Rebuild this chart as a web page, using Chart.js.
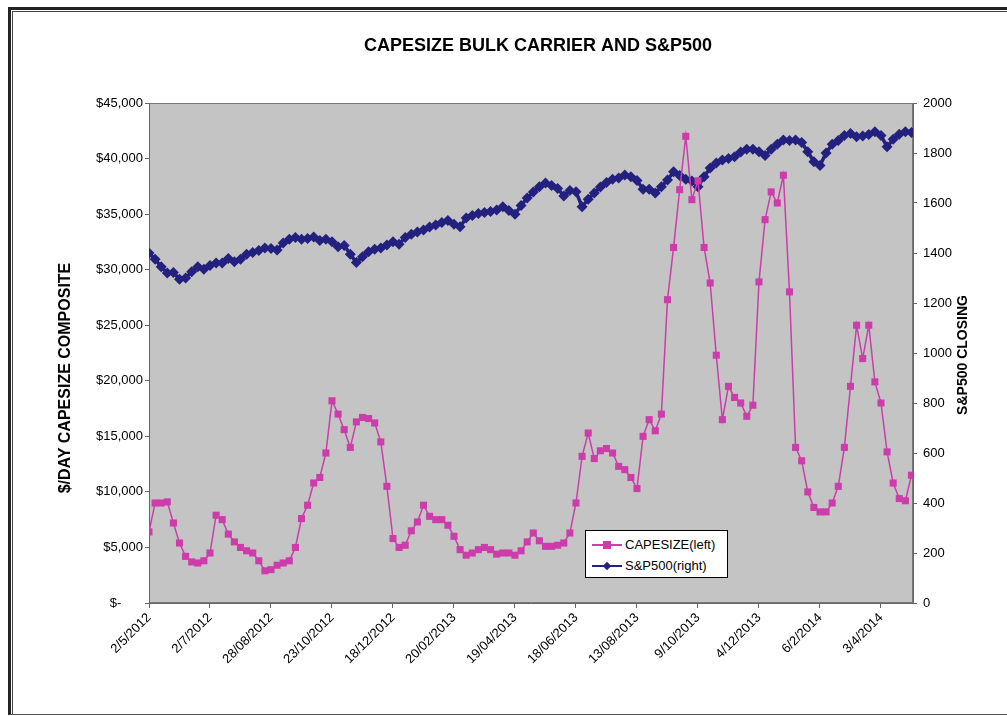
<!DOCTYPE html>
<html>
<head>
<meta charset="utf-8">
<title>Capesize bulk carrier and S&amp;P500</title>
<script src="https://cdn.jsdelivr.net/npm/chart.js@4.4.0/dist/chart.umd.min.js"></script>
<style>
  html, body { margin: 0; padding: 0; background: #fff; }
  body { width: 1007px; height: 716px; position: relative; overflow: hidden; font-family: 'Liberation Sans', Arial, sans-serif; }
  .frame { position: absolute; left: 8px; top: 7px; width: 1020px; height: 704px; border-left: 3px solid #222; border-top: 3px solid #222; border-bottom: 1px solid #555; }
  .frame-inner { position: absolute; left: 1px; top: 1px; right: 0; bottom: 0; border-left: 1px solid #444; border-top: 1px solid #444; }
  #chart { position: absolute; left: 0; top: 0; }
  .legend { position: absolute; left: 585px; top: 530px; width: 143px; height: 48px; box-sizing: border-box; background: #fff; border: 1px solid #000; padding: 3px 0 0 6px; font-size: 13px; color: #000; }
  .legend .row { height: 21px; display: flex; align-items: center; }
  .legend .key { position: relative; width: 30px; height: 10px; margin-right: 3px; }
  .legend .ln { position: absolute; left: 0; right: 0; top: 4px; height: 2px; }
  .legend .mk { position: absolute; left: 11px; top: 1px; width: 8px; height: 8px; }
  .legend .mk.dia { left: 12px; top: 2px; width: 6px; height: 6px; transform: rotate(45deg); }
</style>
</head>
<body>
<div class="frame"><div class="frame-inner"></div></div>
<canvas id="chart" width="1007" height="716"></canvas>
<div class="legend" id="legend"></div>
<script>
// x axis: trading days since 2/5/2012, one label every 40 days
const dateLabels = ['2/5/2012', '2/7/2012', '28/08/2012', '23/10/2012', '18/12/2012', '20/02/2013',
  '19/04/2013', '18/06/2013', '13/08/2013', '9/10/2013', '4/12/2013', '6/2/2014', '3/4/2014'];
const labelEvery = 40;
const sampleEvery = 4;

// $/day capesize composite, read every 4 trading days
const capesize = [
  6400, 9000, 9000, 9100, 7200, 5400, 4200, 3700, 3600, 3800,
  4500, 7900, 7500, 6200, 5500, 5000, 4700, 4500, 3800, 2900,
  3000, 3400, 3600, 3800, 5000, 7600, 8800, 10800, 11300, 13500,
  18200, 17000, 15600, 14000, 16300, 16700, 16600, 16200, 14500, 10500,
  5800, 5000, 5200, 6500, 7300, 8800, 7800, 7500, 7500, 7000,
  6000, 4800, 4300, 4500, 4800, 5000, 4800, 4400, 4500, 4500,
  4300, 4700, 5500, 6300, 5600, 5100, 5100, 5200, 5400, 6300,
  9000, 13200, 15300, 13000, 13700, 13900, 13500, 12300, 12000, 11300,
  10300, 15000, 16500, 15500, 17000, 27300, 32000, 37200, 42000, 36300,
  38000, 32000, 28800, 22300, 16500, 19500, 18500, 18000, 16800, 17800,
  28900, 34500, 37000, 36000, 38500, 28000, 14000, 12800, 10000, 8600,
  8200, 8200, 9000, 10500, 14000, 19500, 25000, 22000, 25000, 19900,
  18000, 13600, 10800, 9400, 9200, 11500
];

// S&P500 closing, same days
const sp500 = [
  1400, 1375, 1345, 1320, 1322, 1295, 1300, 1325, 1345, 1335,
  1350, 1360, 1360, 1378, 1365, 1375, 1395, 1402, 1410, 1420,
  1418, 1412, 1440, 1455, 1462, 1455, 1458, 1464, 1450, 1455,
  1445, 1425, 1430, 1395, 1362, 1385, 1405, 1415, 1420, 1432,
  1445, 1435, 1462, 1475, 1484, 1492, 1504, 1512, 1522, 1530,
  1515, 1505, 1540, 1550, 1558, 1562, 1566, 1572, 1585, 1570,
  1555, 1590, 1620, 1644, 1665, 1680, 1670, 1658, 1628, 1650,
  1645, 1585, 1615, 1640, 1664, 1682, 1695, 1700, 1712, 1705,
  1690, 1655, 1655, 1640, 1665, 1692, 1725, 1710, 1695, 1688,
  1665, 1705, 1740, 1760, 1772, 1778, 1785, 1804, 1815, 1815,
  1805, 1790, 1815, 1835, 1852, 1850, 1852, 1842, 1805, 1765,
  1750, 1800, 1835, 1850, 1870, 1878, 1865, 1868, 1874, 1885,
  1870, 1825, 1855, 1875, 1885, 1882
];

const capeColor = '#cc3dab';
const spxColor = '#23207f';
const plotBg = '#c4c4c4';
const fontFamily = "'Liberation Sans', Arial, sans-serif";
const tickFont = { family: fontFamily, size: 13 };

function toPoints(values) {
  return values.map((v, i) => ({ x: i * sampleEvery, y: v }));
}

function capeTick(v) {
  if (v === 0) return '$-      ';
  return '$' + v.toLocaleString('en-US');
}

const framePlugin = {
  id: 'frame',
  beforeDraw(chart) {
    const { ctx, chartArea: a } = chart;
    ctx.save();
    ctx.fillStyle = plotBg;
    ctx.fillRect(a.left, a.top, a.right - a.left, a.bottom - a.top);
    ctx.strokeStyle = '#777';
    ctx.lineWidth = 1;
    ctx.strokeRect(a.left + 0.5, a.top + 0.5, a.right - a.left - 1, a.bottom - a.top - 1);
    ctx.restore();
  },
  afterDraw(chart) {
    const ctx = chart.ctx;
    ctx.save();
    ctx.fillStyle = '#000';
    ctx.textAlign = 'center';
    ctx.textBaseline = 'middle';
    ctx.font = 'bold 18px ' + fontFamily;
    ctx.fillText('CAPESIZE BULK CARRIER AND S&P500', 538, 46);

    ctx.font = 'bold 16px ' + fontFamily;
    ctx.translate(66, 378);
    ctx.rotate(-Math.PI / 2);
    ctx.fillText('$/DAY CAPESIZE COMPOSITE', 0, 0);
    ctx.restore();

    ctx.save();
    ctx.fillStyle = '#000';
    ctx.textAlign = 'center';
    ctx.textBaseline = 'middle';
    ctx.font = 'bold 14px ' + fontFamily;
    ctx.translate(963, 355);
    ctx.rotate(-Math.PI / 2);
    ctx.fillText('S&P500 CLOSING', 0, 0);
    ctx.restore();
  }
};

const chart = new Chart(document.getElementById('chart').getContext('2d'), {
  type: 'line',
  data: {
    datasets: [{
      label: 'CAPESIZE(left)',
      data: toPoints(capesize),
      yAxisID: 'yCape',
      borderColor: capeColor,
      backgroundColor: capeColor,
      borderWidth: 1.5,
      pointStyle: 'rect',
      pointRadius: 5,
      pointBorderWidth: 0,
      tension: 0,
      order: 0
    }, {
      label: 'S&P500(right)',
      data: toPoints(sp500),
      yAxisID: 'ySpx',
      borderColor: spxColor,
      backgroundColor: spxColor,
      borderWidth: 3.5,
      pointStyle: 'rectRot',
      pointRadius: 5.5,
      pointBorderWidth: 0,
      tension: 0,
      order: 1
    }]
  },
  options: {
    responsive: false,
    animation: false,
    layout: { padding: { top: 103, left: 0, right: 0, bottom: 0 } },
    plugins: {
      legend: { display: false },
      tooltip: { enabled: false }
    },
    scales: {
      x: {
        type: 'linear',
        min: 0,
        max: 501,
        afterFit: s => { s.height = 113; },
        grid: { drawOnChartArea: false, tickLength: 5, color: '#666' },
        border: { color: '#666' },
        ticks: {
          stepSize: labelEvery,
          includeBounds: false,
          autoSkip: false,
          maxRotation: 45,
          minRotation: 45,
          padding: 2,
          color: '#000',
          font: tickFont,
          callback: v => dateLabels[v / labelEvery]
        }
      },
      yCape: {
        position: 'left',
        min: 0,
        max: 45000,
        afterFit: s => { s.width = 149; },
        grid: { drawOnChartArea: false, tickLength: 4, color: '#666' },
        border: { color: '#666' },
        ticks: { stepSize: 5000, padding: 2, color: '#000', font: tickFont, callback: capeTick }
      },
      ySpx: {
        position: 'right',
        min: 0,
        max: 2000,
        afterFit: s => { s.width = 94; },
        grid: { drawOnChartArea: false, tickLength: 4, color: '#666' },
        border: { color: '#666' },
        ticks: { stepSize: 200, padding: 6, color: '#000', font: tickFont, callback: v => String(v) }
      }
    }
  },
  plugins: [framePlugin]
});

// legend box drawn in html over the plot
const legendEl = document.getElementById('legend');
legendEl.innerHTML = chart.data.datasets.map(ds => `
  <div class="row">
    <span class="key">
      <i class="ln" style="background:${ds.borderColor}"></i>
      <i class="mk ${ds.pointStyle === 'rectRot' ? 'dia' : ''}" style="background:${ds.borderColor}"></i>
    </span>${ds.label}
  </div>`).join('');
</script>
</body>
</html>
